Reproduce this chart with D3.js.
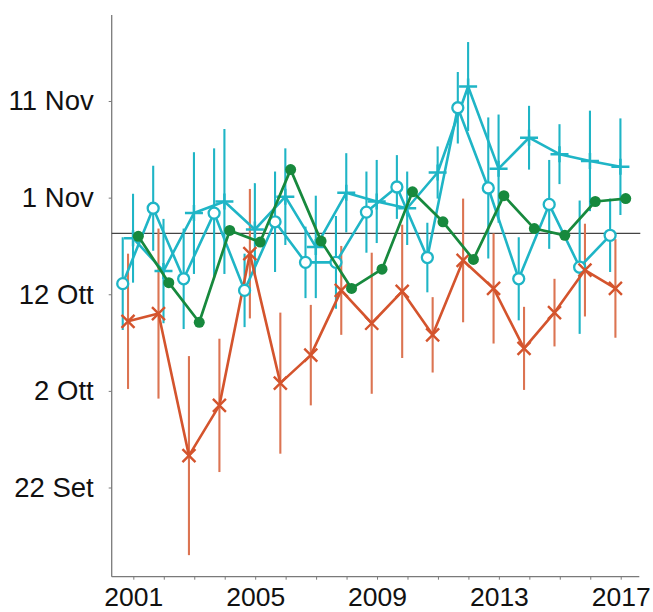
<!DOCTYPE html>
<html>
<head>
<meta charset="utf-8">
<script src="https://cdn.jsdelivr.net/npm/d3@7"></script>
<style>
  html, body { margin: 0; padding: 0; background: #fff; }
  svg { display: block; }
  .tick text { font-family: "Liberation Sans", Arial, sans-serif; fill: #111; }
</style>
</head>
<body>
<svg id="chart" width="653" height="612"></svg>
<script>
// Years on the horizontal axis
const years = [2001, 2002, 2003, 2004, 2005, 2006, 2007, 2008, 2009,
               2010, 2011, 2012, 2013, 2014, 2015, 2016, 2017];
const yearLabels = [2001, 2005, 2009, 2013, 2017];

// Date scale: days counted from 22 Set, one tick every ten days
const dateTicks = [0, 10, 20, 30, 40];
const dateLabels = ["22 Set", "2 Ott", "12 Ott", "1 Nov", "11 Nov"];

// Series A (crosses): mean date and half-width of the error bar
const crossMean = [17.2, 18.0, 3.3, 8.5, 24.2, 10.8, 13.7, 20.4, 17.0, 20.3, 15.8, 23.5, 20.6, 14.4, 18.1, 22.5, 20.6];
const crossErr  = [7.0, 8.8, 10.3, 6.9, 6.7, 7.3, 5.2, 4.6, 7.3, 6.9, 3.9, 6.4, 5.7, 4.3, 3.5, 4.8, 5.1];

// Series B (open circles)
const ringMean = [21.1, 28.9, 21.6, 28.4, 20.4, 27.5, 23.3, 23.3, 28.5, 31.1, 23.8, 39.3, 31.0, 21.6, 29.3, 22.8, 26.1];
const ringErr  = [4.8, 4.4, 5.2, 6.7, 3.8, 5.2, 3.7, 4.8, 4.2, 3.3, 3.6, 3.7, 7.3, 4.3, 4.6, 6.9, 3.8];

// Series C (plus markers)
const plusMean = [25.8, 22.4, 28.4, 29.6, 26.7, 30.1, 24.9, 30.5, 29.6, 28.9, 32.6, 41.5, 33.0, 36.2, 34.5, 33.8, 33.2];
const plusErr  = [4.6, 5.4, 6.3, 7.5, 4.8, 5.0, 5.3, 4.1, 4.3, 3.8, 2.7, 4.6, 5.6, 3.3, 3.1, 5.2, 5.0];

// Series D (filled dots, no error bars)
const dotMean = [26.0, 21.2, 17.1, 26.6, 25.4, 32.9, 25.5, 20.6, 22.6, 30.6, 27.5, 23.6, 30.2, 26.8, 26.1, 29.6, 29.9];

// Reference level drawn across the plot
const refLevel = 26.3;

const RED = "#d4542d", RED_BAR = "#dc7452", TEAL = "#1fb5c6", GREEN = "#17893d";

const svg = d3.select("#chart");
const plotLeft = 111.7, plotRight = 639.3, plotTop = 15, plotBottom = 576.7;

const x = d3.scaleLinear().domain([2000.29, 2017.61]).range([plotLeft, plotRight]);
const y = d3.scaleLinear().domain([-9.23, 48.9]).range([plotBottom, plotTop]);

// Axes
const yAxis = d3.axisLeft(y)
  .tickValues(dateTicks)
  .tickFormat((d, i) => dateLabels[i])
  .tickSize(3).tickPadding(15).tickSizeOuter(0);
const gy = svg.append("g").attr("transform", `translate(${plotLeft},0)`).call(yAxis);

const xAxis = d3.axisBottom(x)
  .tickValues(years)
  .tickFormat(d => yearLabels.includes(d) ? d : "")
  .tickSize(3).tickPadding(7).tickSizeOuter(0);
const gx = svg.append("g").attr("transform", `translate(0,${plotBottom})`).call(xAxis);

[gx, gy].forEach(g => {
  g.select(".domain").attr("stroke", "#7a7a7a").attr("stroke-width", 1.3);
  g.selectAll(".tick line").attr("stroke", "#7a7a7a").attr("stroke-width", 1);
});
gy.selectAll(".tick text").attr("font-size", 27.5);
gx.selectAll(".tick text").attr("font-size", 26.5);
gy.select(".domain").attr("d", `M0,${plotTop}V${plotBottom}`);
gx.select(".domain").attr("d", `M${plotLeft},0H${plotRight}`);

// Reference line
svg.append("line")
  .attr("x1", plotLeft).attr("x2", plotRight + 1)
  .attr("y1", y(refLevel)).attr("y2", y(refLevel))
  .attr("stroke", "#444").attr("stroke-width", 1.1);

// Horizontal dodge so the four series don't overlap
const dodge = { ring: -10.6, cross: -5.3, plus: -0.3, dot: 5.0 };

function rows(mean, err, dx) {
  return years.map((yr, i) => ({ cx: x(yr) + dx, m: mean[i], e: err ? err[i] : 0 }));
}
const ring = rows(ringMean, ringErr, dodge.ring);
const plus = rows(plusMean, plusErr, dodge.plus);
const cross = rows(crossMean, crossErr, dodge.cross);
const dot = rows(dotMean, null, dodge.dot);

function errorBars(data, color, width) {
  svg.append("g").selectAll("line").data(data).join("line")
    .attr("x1", d => d.cx).attr("x2", d => d.cx)
    .attr("y1", d => y(d.m + d.e)).attr("y2", d => y(d.m - d.e))
    .attr("stroke", color).attr("stroke-width", width);
}
function trace(data, color, width) {
  svg.append("path").datum(data)
    .attr("fill", "none").attr("stroke", color).attr("stroke-width", width)
    .attr("stroke-linejoin", "round")
    .attr("d", d3.line().x(d => d.cx).y(d => y(d.m)));
}

errorBars(ring, TEAL, 2.1);
errorBars(plus, TEAL, 2.1);
errorBars(cross, RED_BAR, 2.1);

trace(ring, TEAL, 2.6);
trace(plus, TEAL, 2.6);
trace(cross, RED, 2.6);

// Plus markers
svg.append("g").selectAll("path").data(plus).join("path")
  .attr("d", d => `M${d.cx - 9},${y(d.m)}H${d.cx + 9}M${d.cx},${y(d.m) - 8}V${y(d.m) + 8}`)
  .attr("stroke", TEAL).attr("stroke-width", 2.5).attr("fill", "none");

// Open circles
svg.append("g").selectAll("circle").data(ring).join("circle")
  .attr("cx", d => d.cx).attr("cy", d => y(d.m)).attr("r", 5.5)
  .attr("fill", "#fff").attr("stroke", TEAL).attr("stroke-width", 2.3);

// Crosses
svg.append("g").selectAll("path").data(cross).join("path")
  .attr("d", d => { const cy = y(d.m), s = 6.5;
    return `M${d.cx - s},${cy - s}L${d.cx + s},${cy + s}M${d.cx - s},${cy + s}L${d.cx + s},${cy - s}`; })
  .attr("stroke", RED).attr("stroke-width", 2.4).attr("fill", "none");

// Filled dots series on top
trace(dot, GREEN, 2.7);
svg.append("g").selectAll("circle").data(dot).join("circle")
  .attr("cx", d => d.cx).attr("cy", d => y(d.m)).attr("r", 5.5)
  .attr("fill", GREEN);
</script>
</body>
</html>
